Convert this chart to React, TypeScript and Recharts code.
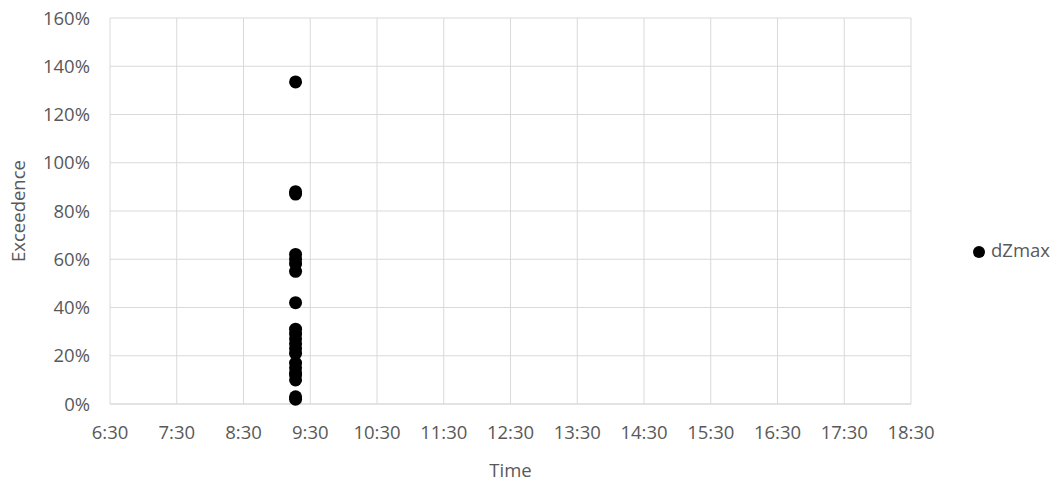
import React from 'react';
import { ScatterChart, Scatter, XAxis, YAxis, CartesianGrid } from 'recharts';

// time of the readings, in hours (about 9:17)
const times = [9.28, 9.28, 9.28, 9.28, 9.28, 9.28, 9.28, 9.28, 9.28, 9.28, 9.28, 9.28, 9.28, 9.28, 9.28, 9.28, 9.28, 9.28, 9.28, 9.28, 9.28];
// exceedence, as fraction
const dZmax = [1.335, 0.88, 0.87, 0.62, 0.6, 0.58, 0.55, 0.42, 0.31, 0.29, 0.27, 0.25, 0.23, 0.21, 0.17, 0.15, 0.13, 0.12, 0.1, 0.03, 0.02];

const xTicks = [6.5, 7.5, 8.5, 9.5, 10.5, 11.5, 12.5, 13.5, 14.5, 15.5, 16.5, 17.5, 18.5];
const yTicks = [0, 0.2, 0.4, 0.6, 0.8, 1.0, 1.2, 1.4, 1.6];

const points = times.map((t, i) => ({ t, v: dZmax[i] }));

const fmtTime = (h: number) => `${Math.floor(h)}:${String(Math.round((h % 1) * 60)).padStart(2, '0')}`;
const fmtPct = (v: number) => `${Math.round(v * 100)}%`;

const font = '"Open Sans", sans-serif';
const textColor = '#595959';
const fs = 18.5;

const Dot = (props: any) => <circle cx={props.cx} cy={props.cy} r={6.5} fill="#000" />;

export default function App() {
    return (
        <div style={{ position: 'absolute', left: 0, top: 0, width: 1057, height: 487, background: '#fff', fontFamily: font }}>
            <ScatterChart width={1057} height={487} margin={{ top: 18, right: 146, bottom: 0, left: 0 }}>
                <CartesianGrid stroke="#d9d9d9" strokeWidth={1} />
                <XAxis
                    type="number"
                    dataKey="t"
                    domain={[6.5, 18.5]}
                    ticks={xTicks}
                    tickFormatter={fmtTime}
                    interval={0}
                    axisLine={{ stroke: '#d9d9d9' }}
                    tickLine={false}
                    tickMargin={16}
                    height={83}
                    tick={{ fill: textColor, fontSize: fs, fontFamily: font }}
                    label={{ value: 'Time', position: 'insideBottom', offset: 10, fill: textColor, fontSize: fs, fontFamily: font }}
                />
                <YAxis
                    type="number"
                    dataKey="v"
                    domain={[0, 1.6]}
                    ticks={yTicks}
                    tickFormatter={fmtPct}
                    interval={0}
                    axisLine={false}
                    tickLine={false}
                    tickMargin={14}
                    width={110}
                    tick={{ fill: textColor, fontSize: fs, fontFamily: font }}
                    label={{ value: 'Exceedence', angle: -90, position: 'insideLeft', offset: 18, fill: textColor, fontSize: fs, fontFamily: font, style: { textAnchor: 'middle' } }}
                />
                <Scatter data={points} fill="#000" shape={Dot} isAnimationActive={false} />
            </ScatterChart>
            <div style={{ position: 'absolute', left: 973, top: 245.5, width: 12, height: 12, borderRadius: 6, background: '#000' }} />
            <div style={{ position: 'absolute', left: 991, top: 240.5, lineHeight: '18.5px', fontSize: fs, color: textColor }}>dZmax</div>
        </div>
    );
}
